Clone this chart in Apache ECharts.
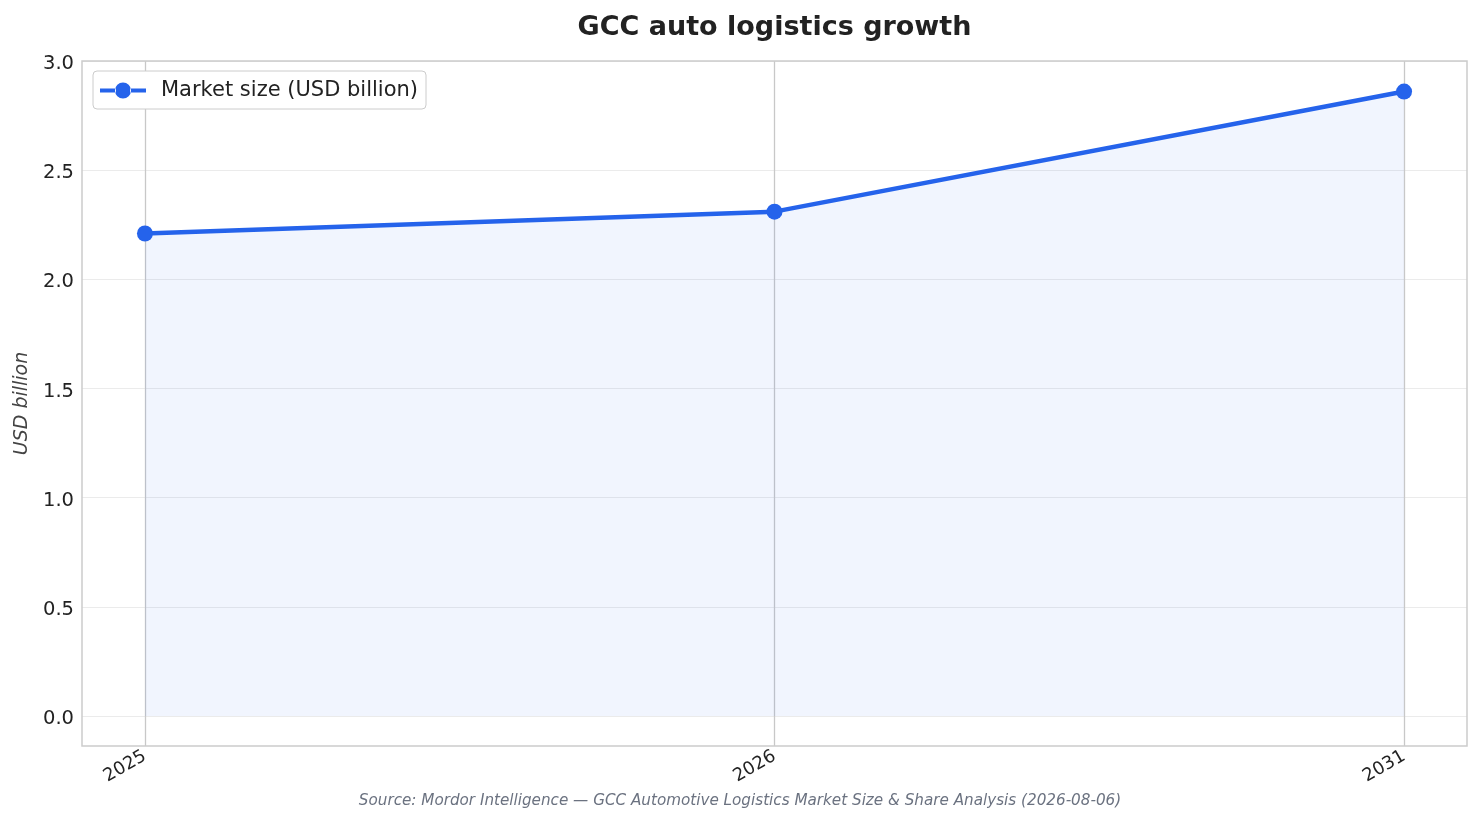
<!DOCTYPE html>
<html><head><meta charset="utf-8">
<script src="https://cdn.jsdelivr.net/npm/echarts@6/dist/echarts.min.js"></script>
<style>html,body{margin:0;padding:0;background:#fff}#c{width:1482px;height:824px}</style>
</head><body><div id="c"></div>
<script>
const categories = ['2025', '2026', '2031'];
const marketSize = [2.21, 2.31, 2.86];
const yTicks = [0, 0.5, 1.0, 1.5, 2.0, 2.5, 3.0];

const F = 'DejaVu Sans';
const chart = echarts.init(document.getElementById('c'));
chart.setOption({
  animation: false,
  backgroundColor: '#fff',
  graphic: [{
    type: 'text', x: 774.5, y: 28,
    style: {text: 'GCC auto logistics growth', font: 'bold 27px "DejaVu Sans"', fill: '#222',
      align: 'center', verticalAlign: 'middle'}
  }, {
    type: 'text', x: 740, y: 801,
    style: {text: 'Source: Mordor Intelligence — GCC Automotive Logistics Market Size & Share Analysis (2026-08-06)',
      font: 'italic 15.2px "DejaVu Sans"', fill: '#6b7280', align: 'center', verticalAlign: 'middle'}
  }, {
    type: 'rect', shape: {x: 82, y: 61, width: 1385, height: 685},
    style: {fill: 'none', stroke: '#cccccc', lineWidth: 1.5}, z: 100, silent: true
  }],
  legend: {
    left: 93, top: 71, padding: [9, 8, 8, 7],
    borderColor: '#cccccc', borderWidth: 1, borderRadius: 4, backgroundColor: '#fff',
    itemWidth: 46, itemHeight: 16, itemGap: 10,
    textStyle: {fontFamily: F, fontSize: 21, color: '#222', padding: [0, 0, 0, 10]},
    data: [{name: 'Market size (USD billion)',
      icon: 'path://M0,10H16V14H0Z M30,10H46V14H30Z M15,12a8,8 0 1,0 16,0a8,8 0 1,0 -16,0Z'}]
  },
  grid: {left: 82, right: 15, top: 61, bottom: 78, containLabel: false},
  xAxis: {
    type: 'value', min: -0.1, max: 2.1,
    axisLine: {show: false},
    axisTick: {show: false, customValues: [0, 1, 2]},
    axisLabel: {
      customValues: [0, 1, 2], rotate: 30, margin: 9,
      fontFamily: F, fontSize: 18, color: '#222',
      formatter: v => categories[Math.round(v)]
    },
    splitLine: {show: true, lineStyle: {color: '#c8c8c8', width: 1.3}}
  },
  yAxis: {
    type: 'value', min: -0.1376, max: 3.0,
    name: 'USD billion', nameLocation: 'middle', nameGap: 50,
    nameTextStyle: {fontFamily: F, fontSize: 19, fontStyle: 'italic', color: '#444'},
    axisLine: {show: false}, axisTick: {show: false, customValues: yTicks},
    axisLabel: {customValues: yTicks, fontFamily: F, fontSize: 19.5, color: '#222', margin: 8,
      verticalAlign: 'top', lineHeight: 6, formatter: v => v.toFixed(1)},
    splitLine: {show: true, lineStyle: {color: '#ebebeb', width: 1.2}}
  },
  series: [{
    name: 'Market size (USD billion)', type: 'line',
    data: marketSize.map((v, i) => [i, v]),
    symbol: 'circle', symbolSize: 16,
    itemStyle: {color: '#2563eb'},
    lineStyle: {color: '#2563eb', width: 4.5},
    areaStyle: {color: 'rgba(37,99,235,0.09)', origin: 0}
  }]
});
</script></body></html>
